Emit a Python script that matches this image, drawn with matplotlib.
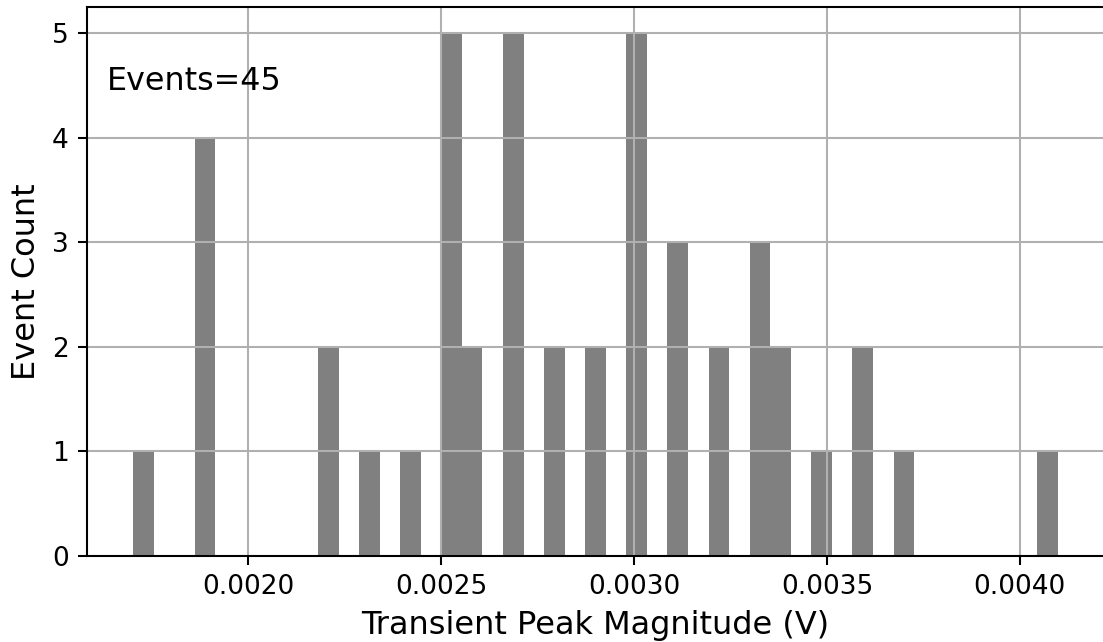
import numpy as np
import matplotlib
matplotlib.use("Agg")
import matplotlib.pyplot as plt

# Histogram of transient peak magnitudes: 45 equal-width bins
bin_min = 0.001702   # V
bin_max = 0.0040987  # V
counts = [1, 0, 0, 4, 0, 0, 0, 0, 0, 2,
          0, 1, 0, 1, 0, 5, 2, 0, 5, 0,
          2, 0, 2, 0, 5, 0, 3, 0, 2, 0,
          3, 2, 0, 1, 0, 2, 0, 1, 0, 0,
          0, 0, 0, 0, 1]
n_events = int(sum(counts))

edges = np.linspace(bin_min, bin_max, len(counts) + 1)
centers = 0.5 * (edges[:-1] + edges[1:])

dpi = 186
fig = plt.figure(figsize=(1103 / dpi, 642 / dpi), dpi=dpi)
ax = fig.add_axes([0.0786, 0.134, 0.9225, 0.8546])

ax.hist(centers, bins=edges, weights=counts, color="gray")
ax.grid(True)
ax.set_xticks([0.0020, 0.0025, 0.0030, 0.0035, 0.0040])
ax.set_xlabel("Transient Peak Magnitude (V)", fontsize=12.4)
ax.set_ylabel("Event Count", fontsize=12.4)
ax.tick_params(labelsize=10.2)
ax.text(0.02, 0.85, f"Events={n_events}", transform=ax.transAxes, fontsize=12.3)

fig.savefig("out.png", dpi=dpi)
